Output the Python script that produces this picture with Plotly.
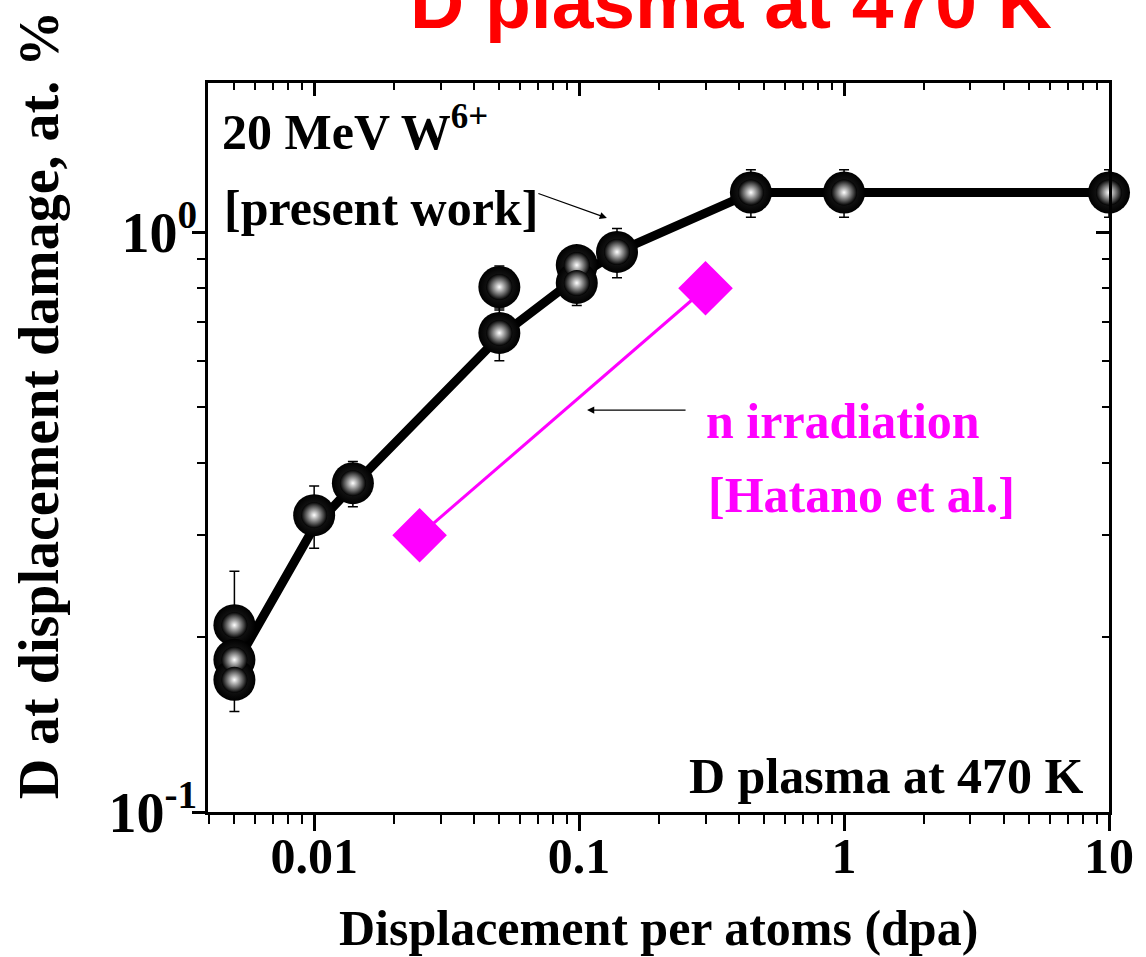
import plotly.graph_objects as go

# ---------------- data ----------------
w_dpa = [0.005, 0.005, 0.005, 0.01, 0.014, 0.05, 0.05, 0.098, 0.098, 0.139, 0.445, 1.0, 10.0]
w_d = [0.21, 0.183, 0.169, 0.325, 0.369, 0.804, 0.67, 0.877, 0.817, 0.924, 1.17, 1.17, 1.17]
w_err = [0.05, 0.02, 0.02, 0.04, 0.033, 0.07, 0.07, 0.07, 0.07, 0.09, 0.11, 0.11, 0.11]

fit_dpa = [0.005, 0.01, 0.014, 0.05, 0.1, 0.14, 0.45, 1.0, 10.0]
fit_d = [0.178, 0.31, 0.365, 0.66, 0.84, 0.925, 1.17, 1.17, 1.17]

n_dpa = [0.025, 0.3]
n_d = [0.3, 0.8]

x_major = [0.01, 0.1, 1, 10]
x_major_text = ["0.01", "0.1", "1", "10"]
x_minor = [0.004, 0.005, 0.006, 0.007, 0.008, 0.009,
           0.02, 0.03, 0.04, 0.05, 0.06, 0.07, 0.08, 0.09,
           0.2, 0.3, 0.4, 0.5, 0.6, 0.7, 0.8, 0.9,
           2, 3, 4, 5, 6, 7, 8, 9]
y_major = [0.1, 1]
y_major_text = ["10<sup>-1</sup>", "10<sup>0</sup>"]
y_minor = [0.2, 0.3, 0.4, 0.5, 0.6, 0.7, 0.8, 0.9]

SERIF = "Liberation Serif"
SANS = "Liberation Sans"

fig = go.Figure()

# fitted line
fig.add_trace(go.Scatter(x=fit_dpa, y=fit_d, mode="lines",
                         line=dict(color="black", width=9),
                         showlegend=False, hoverinfo="skip"))

# neutron irradiation
fig.add_trace(go.Scatter(x=n_dpa, y=n_d, mode="lines+markers",
                         line=dict(color="#ff00ff", width=3),
                         marker=dict(symbol="diamond", size=42, color="#ff00ff"),
                         showlegend=False, cliponaxis=False))

# W ion data: black spheres
fig.add_trace(go.Scatter(x=w_dpa, y=w_d, mode="markers",
                         error_y=dict(type="data", array=w_err, arrayminus=w_err,
                                      color="black", thickness=1.5, width=5),
                         marker=dict(symbol="circle", size=42, color="black",
                                     gradient=dict(type="radial", color="#2a2a2a")),
                         showlegend=False, cliponaxis=False))
# highlight
fig.add_trace(go.Scatter(x=w_dpa, y=w_d, mode="markers",
                         marker=dict(symbol="circle", size=26, color="black",
                                     gradient=dict(type="radial", color="#ffffff"),
                                     line=dict(width=0)),
                         showlegend=False, cliponaxis=False, hoverinfo="skip"))

# dummy (invisible) trace for mirror axes with inward ticks
fig.add_trace(go.Scatter(x=w_dpa, y=w_d, xaxis="x2", yaxis="y2", mode="markers",
                         marker=dict(opacity=0), showlegend=False, hoverinfo="skip"))

XR = [-2.4007, 1.0]
YR = [-1.0, 0.257]
xtickfont = dict(family=SERIF, size=50, color="black", weight="bold")
ytickfont = dict(family=SERIF, size=56, color="black", weight="bold")

fig.update_layout(
    width=1146, height=957,
    margin=dict(l=208, r=30, t=83, b=145),
    paper_bgcolor="white", plot_bgcolor="white",
    showlegend=False,
    xaxis=dict(type="log", range=XR, showgrid=False, zeroline=False,
               showline=True, linecolor="black", linewidth=2.5, mirror=True,
               tickmode="array", tickvals=x_major, ticktext=x_major_text,
               ticks="outside", ticklen=16, tickwidth=2.5, tickcolor="black",
               tickfont=xtickfont, ticklabelstandoff=-18,
               minor=dict(tickmode="array", tickvals=x_minor, ticks="outside",
                          ticklen=9, tickwidth=2, tickcolor="black", showgrid=False)),
    yaxis=dict(type="log", range=YR, showgrid=False, zeroline=False,
               showline=True, linecolor="black", linewidth=2.5, mirror=True,
               tickmode="array", tickvals=y_major, ticktext=y_major_text,
               ticks="outside", ticklen=13, tickwidth=2.5, tickcolor="black",
               tickfont=ytickfont, ticklabelstandoff=-16,
               minor=dict(tickmode="array", tickvals=y_minor, ticks="outside",
                          ticklen=8, tickwidth=2, tickcolor="black", showgrid=False)),
    xaxis2=dict(type="log", range=XR, overlaying="x", side="top", anchor="y2",
                showgrid=False, zeroline=False, showline=False,
                tickmode="array", tickvals=x_major, showticklabels=False,
                ticks="inside", ticklen=13, tickwidth=2.5, tickcolor="black",
                minor=dict(tickmode="array", tickvals=x_minor, ticks="inside",
                           ticklen=7, tickwidth=2, tickcolor="black", showgrid=False)),
    yaxis2=dict(type="log", range=YR, overlaying="y", side="right", anchor="x2",
                showgrid=False, zeroline=False, showline=False,
                tickmode="array", tickvals=y_major, showticklabels=False,
                ticks="inside", ticklen=13, tickwidth=2.5, tickcolor="black",
                minor=dict(tickmode="array", tickvals=y_minor, ticks="inside",
                           ticklen=7, tickwidth=2, tickcolor="black", showgrid=False)),
)

def txt(text, x, y, xanchor="left", color="black", size=50, family=SERIF, angle=0):
    fig.add_annotation(text=text, x=x, y=y, xref="paper", yref="paper",
                       xanchor=xanchor, yanchor="middle", showarrow=False,
                       textangle=angle,
                       font=dict(family=family, size=size, color=color, weight="bold"))

txt("20 MeV W<sup>6+</sup>", 0.0132, 0.937)
txt("[present work]", 0.0154, 0.8285)
txt("n irradiation", 0.5507, 0.5364, color="#ff00ff")
txt("[Hatano et al.]", 0.5529, 0.4348, color="#ff00ff")
txt("D plasma at 470 K", 0.9747, 0.0494, xanchor="right")
txt("Displacement per atoms (dpa)", 0.5, -0.159, xanchor="center")
txt("D at displacement damage, at. %", -0.1872, 0.5583, xanchor="center", size=56, angle=-90)
txt("D plasma at 470 K", 0.5804, 1.111, xanchor="center", color="#ff0000", size=75, family=SANS)

# arrows
fig.add_annotation(text="", x=0.4427, y=0.8148, xref="paper", yref="paper",
                   showarrow=True, ax=-70, ay=-25, arrowhead=2, arrowsize=1.2,
                   arrowwidth=1.2, arrowcolor="black")
fig.add_annotation(text="", x=0.4207, y=0.5514, xref="paper", yref="paper",
                   showarrow=True, ax=100, ay=0, arrowhead=2, arrowsize=1.2,
                   arrowwidth=1.2, arrowcolor="black")

fig.write_html("out.html")
